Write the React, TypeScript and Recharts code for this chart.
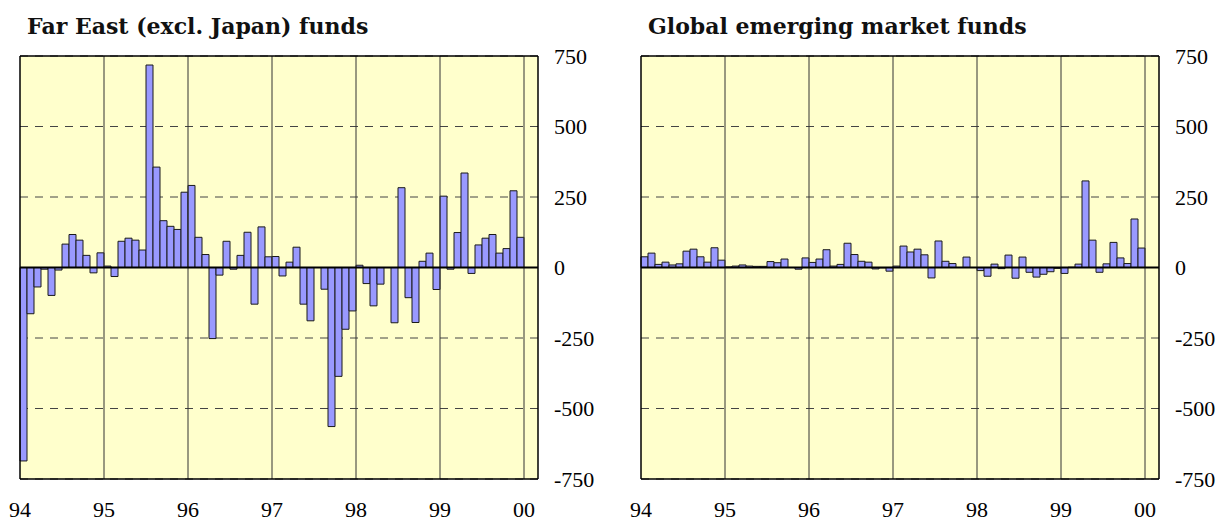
import React from 'react';
import { BarChart, Bar, XAxis, YAxis, CartesianGrid, ReferenceLine } from 'recharts';

// year labels at each January boundary
const years = ['94', '95', '96', '97', '98', '99', '00'];
const yTicks = [-750, -500, -250, 0, 250, 500, 750];

// monthly net flows, Jan 1994 - Dec 1999
const farEast = [
    -686, -164, -69, -6, -99, -9, 83, 117, 97, 43, -19, 52,
    5, -32, 93, 104, 97, 62, 718, 356, 166, 146, 135, 267,
    291, 107, 46, -252, -27, 93, -6, 43, 125, -130, 144, 38,
    39, -30, 19, 72, -130, -189, 0, -77, -564, -386, -219, -154,
    8, -57, -136, -59, 0, -196, 283, -107, -195, 22, 51, -78,
    253, -6, 124, 335, -21, 80, 104, 117, 51, 67, 272, 107,
];

const emerging = [
    38, 51, 11, 19, 9, 13, 58, 65, 38, 19, 70, 26,
    2, 5, 9, 5, 4, 4, 21, 17, 30, 0, -6, 34,
    18, 30, 63, 5, 11, 86, 46, 22, 19, -5, -1, -13,
    5, 76, 55, 65, 45, -37, 94, 22, 14, 0, 37, 0,
    -11, -31, 12, -4, 44, -38, 37, -17, -34, -24, -15, -3,
    -21, 1, 12, 307, 97, -17, 13, 89, 34, 14, 172, 69,
];

const tickFont = { fontFamily: 'Liberation Serif', fontSize: 22, fill: '#000' };

interface PanelProps {
    title: string;
    values: number[];
    left: number;
}

const Panel: React.FC<PanelProps> = ({ title, values, left }) => {
    const data = values.map((v, i) => ({ month: i + 0.5, value: v }));
    return (
        <div style={{ position: 'absolute', left, top: 0, fontFamily: 'Liberation Serif' }}>
            <div
                style={{
                    position: 'absolute',
                    left: 27,
                    top: 15,
                    fontFamily: 'DejaVu Serif',
                    fontWeight: 'bold',
                    fontSize: 22,
                    lineHeight: 1,
                    whiteSpace: 'nowrap',
                    color: '#111',
                }}
            >
                {title}
            </div>
            <BarChart
                width={597}
                height={519}
                data={data}
                margin={{ top: 56, right: 0, bottom: 0, left: 20 }}
                barCategoryGap={0}
                barGap={0}
            >
                <CartesianGrid
                    vertical={false}
                    fill="#FFFFCC"
                    fillOpacity={1}
                    stroke="#444"
                    strokeDasharray="8 7"
                />
                <XAxis
                    type="number"
                    dataKey="month"
                    domain={[0, 74]}
                    ticks={[0, 12, 24, 36, 48, 60, 72]}
                    tickFormatter={(t: number) => years[t / 12]}
                    axisLine={false}
                    tickLine={false}
                    tickSize={6}
                    tickMargin={16}
                    height={40}
                    tick={tickFont}
                    interval={0}
                />
                <YAxis
                    orientation="right"
                    domain={[-750, 750]}
                    ticks={yTicks}
                    axisLine={false}
                    tickLine={false}
                    tickSize={6}
                    tickMargin={10}
                    width={59}
                    tick={{ ...tickFont, textAnchor: 'start' }}
                    interval={0}
                />
                {[12, 24, 36, 48, 60, 72].map((x) => (
                    <ReferenceLine key={x} x={x} stroke="#333" strokeWidth={1} />
                ))}
                <Bar
                    dataKey="value"
                    fill="#9999FF"
                    stroke="#1a1a1a"
                    strokeWidth={1}
                    isAnimationActive={false}
                />
                <ReferenceLine y={0} stroke="#000" strokeWidth={2} />
                <ReferenceLine x={0} stroke="#000" strokeWidth={1.5} />
                <ReferenceLine x={74} stroke="#000" strokeWidth={1.5} />
                <ReferenceLine y={750} stroke="#000" strokeWidth={1.5} />
                <ReferenceLine y={-750} stroke="#000" strokeWidth={1.5} />
            </BarChart>
        </div>
    );
};

export default function App() {
    return (
        <div style={{ position: 'absolute', left: 0, top: 0, width: 1218, height: 519, overflow: 'hidden', background: '#fff' }}>
            <Panel title="Far East (excl. Japan) funds" values={farEast} left={0} />
            <Panel title="Global emerging market funds" values={emerging} left={621} />
        </div>
    );
}
